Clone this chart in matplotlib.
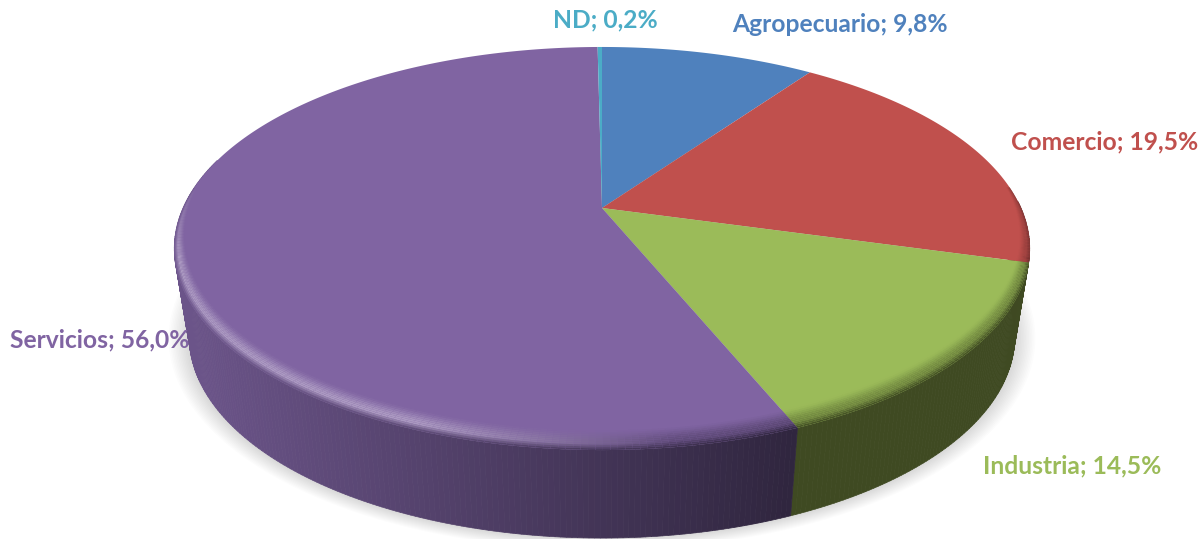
"""Perspective 3D pie of sector shares, drawn from the percentages."""

import numpy as np
import matplotlib

matplotlib.use("Agg")
import matplotlib.pyplot as plt
from matplotlib.collections import PolyCollection
from matplotlib.colors import to_rgb

categories = ["Agropecuario", "Comercio", "Industria", "Servicios", "ND"]
shares = [9.8, 19.5, 14.5, 56.0, 0.2]
colors = ["#4f81bd", "#c0504d", "#9bbb59", "#8064a2", "#4bacc6"]
wall_left = ["#3a5a85", "#6e2d2c", "#3f4a22", "#6b5489", "#2c6a7a"]
wall_right = ["#3a5a85", "#6e2d2c", "#3f4a22", "#30263f", "#2c6a7a"]
label_xy = [(840, 25), (1105, 142), (1072, 466), (100, 340), (605, 20)]

CX, CY = 602, 208
A, B, K = 419, 193.4, 0.201
BOTTOM_Y, BOTTOM_SX = 296, 0.965


def project(theta, r=1.0):
    # theta clockwise from top, circle seen in perspective
    u, v = r * np.sin(theta), r * np.cos(theta)
    w = 1 + K * v
    return CX + A * u / w, CY - B * v / w


def project_bottom(theta):
    x, y = project(theta)
    return CX + BOTTOM_SX * (x - CX), BOTTOM_Y + (y - CY)


def mix(c1, c2, t):
    return tuple((1 - t) * a + t * b for a, b in zip(c1, c2))


def highlight(theta):
    # light rim on the front left of the disc
    deg = np.degrees(theta) % 360
    up = np.clip((deg - 172) / 30, 0, 1)
    down = np.clip((282 - deg) / 25, 0, 1)
    return min(up, down)


edges = np.radians(np.concatenate([[0], np.cumsum(shares)]) * 3.6)

fig = plt.figure(figsize=(12.03, 5.39), dpi=100)
ax = fig.add_axes([0, 0, 1, 1])
ax.set_xlim(0, 1203)
ax.set_ylim(539, 0)
ax.axis("off")

# soft shadow under the disc
t = np.linspace(0, 2 * np.pi, 360)
bx, by = project_bottom(t)
for grow in np.linspace(1.05, 1.0, 14):
    ax.fill(CX + (bx - CX) * grow, 302 + (by - 302) * grow,
            color="black", alpha=0.012, lw=0, zorder=1)

# side wall
polys, face = [], []
for i, col in enumerate(categories):
    start, end = edges[i], edges[i + 1]
    lo, hi = max(start, np.radians(88)), min(end, np.radians(285))
    if lo >= hi:
        continue
    steps = np.linspace(lo, hi, max(2, int((hi - lo) * 90)))
    for a0, a1 in zip(steps[:-1], steps[1:]):
        xt0, yt0 = project(a0)
        xt1, yt1 = project(a1)
        xb0, yb0 = project_bottom(a0)
        xb1, yb1 = project_bottom(a1)
        polys.append([(xt0, yt0), (xt1, yt1), (xb1, yb1), (xb0, yb0)])
        frac = np.clip((790 - (xt0 + xt1) / 2) / 600, 0, 1)
        face.append(mix(to_rgb(wall_right[i]), to_rgb(wall_left[i]), frac))
ax.add_collection(PolyCollection(polys, facecolors=face, edgecolors=face, linewidths=0.5, zorder=2))

# top face
for i, col in enumerate(colors):
    a = np.linspace(edges[i], edges[i + 1], max(2, int((edges[i + 1] - edges[i]) * 80)))
    x, y = project(a)
    ax.fill(np.r_[CX, x], np.r_[CY, y], color=col, lw=0, zorder=3)

# bevel round the rim, front half only
polys, face = [], []
bands = np.linspace(0, 1, 13)
for i, col in enumerate(colors):
    base = to_rgb(col)
    hi_col = mix(base, (1, 1, 1), 0.36)
    steps = np.linspace(edges[i], edges[i + 1], max(2, int((edges[i + 1] - edges[i]) * 70)))
    for a0, a1 in zip(steps[:-1], steps[1:]):
        am = (a0 + a1) / 2
        front = max(0.0, -np.cos(am) + 0.25) / 1.25
        width = 0.072 * front
        if width < 0.008:
            continue
        h = highlight(am)
        xm = project(am)[0]
        frac = np.clip((790 - xm) / 600, 0, 1)
        wall = mix(to_rgb(wall_right[i]), to_rgb(wall_left[i]), frac)
        peak = mix(mix(base, wall, 0.45), hi_col, h)
        for b0, b1 in zip(bands[:-1], bands[1:]):
            r0, r1 = 1 - width * (1 - b0), 1 - width * (1 - b1)
            x00, y00 = project(a0, r0)
            x01, y01 = project(a1, r0)
            x11, y11 = project(a1, r1)
            x10, y10 = project(a0, r1)
            tb = (b0 + b1) / 2
            if tb < 0.7:
                s = tb / 0.7
                c = mix(base, peak, s * s * (3 - 2 * s))
            else:
                c = mix(peak, wall, (tb - 0.7) / 0.3)
            polys.append([(x00, y00), (x01, y01), (x11, y11), (x10, y10)])
            face.append(c)
ax.add_collection(PolyCollection(polys, facecolors=face, edgecolors="none", zorder=4))

# labels
for name, val, col, (lx, ly) in zip(categories, shares, colors, label_xy):
    txt = f"{name}; {val:.1f}%".replace(".", ",")
    ax.text(lx, ly, txt, color=col, family=["Lato", "DejaVu Sans"], weight="bold",
            fontsize=17.7, ha="center", va="center", zorder=6)

fig.savefig("out.png", dpi=100)
plt.close(fig)
